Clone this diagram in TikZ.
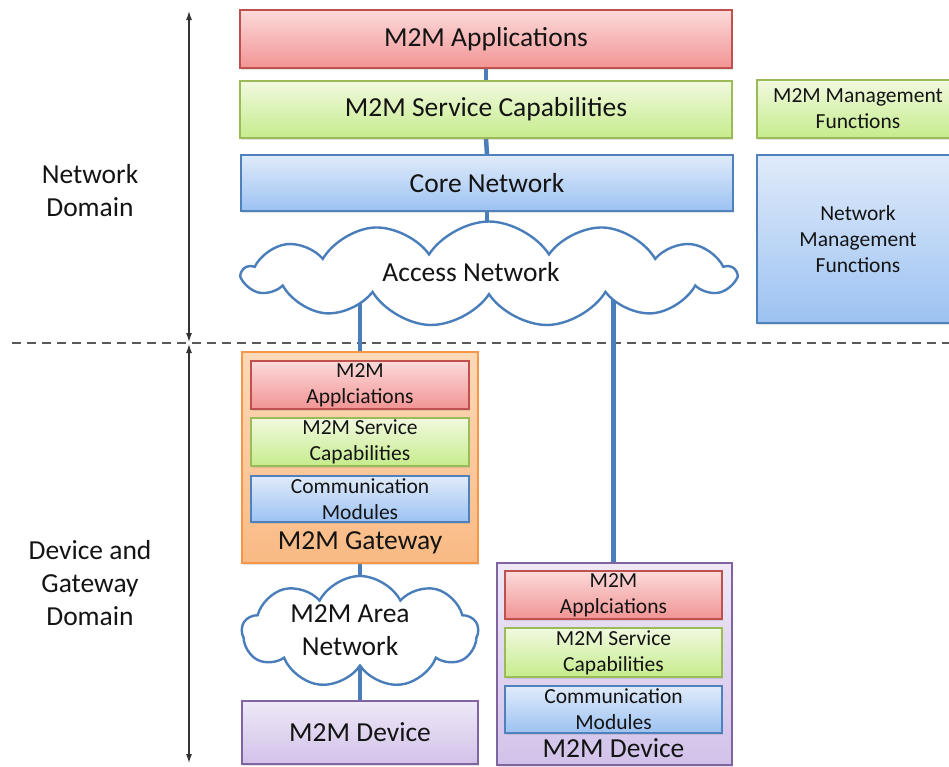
\documentclass[tikz,border=0pt]{standalone}
\usepackage{fontspec}
\setmainfont{Carlito}
\usetikzlibrary{shapes.symbols,arrows.meta,shadows,backgrounds}
\definecolor{redline}{HTML}{C0504D}
\definecolor{redtop}{HTML}{FCDADA}
\definecolor{redbot}{HTML}{F29494}
\definecolor{grnline}{HTML}{9BBB59}
\definecolor{grntop}{HTML}{F1F9DF}
\definecolor{grnbot}{HTML}{C6EC8C}
\definecolor{bluline}{HTML}{4F81BD}
\definecolor{blutop}{HTML}{E0EBFA}
\definecolor{blubot}{HTML}{9CC2F2}
\definecolor{orgline}{HTML}{F79646}
\definecolor{orgtop}{HTML}{FDD9B8}
\definecolor{orgbot}{HTML}{F9BA84}
\definecolor{purline}{HTML}{8064A2}
\definecolor{purtop}{HTML}{EEE8F6}
\definecolor{purbot}{HTML}{D2C2EA}
\definecolor{linkc}{HTML}{4A7EBB}
\definecolor{txt}{HTML}{141414}
\begin{document}
\begin{tikzpicture}[x=1pt,y=-1pt,
  base/.style={draw, line width=1.1pt, inner sep=0pt, align=center, text=txt,
    drop shadow={shadow xshift=1.2pt, shadow yshift=-1.6pt, opacity=0.22}},
  redbox/.style={base, draw=redline, top color=redtop, bottom color=redbot},
  grnbox/.style={base, draw=grnline, top color=grntop, bottom color=grnbot},
  blubox/.style={base, draw=bluline, top color=blutop, bottom color=blubot},
  orgbox/.style={base, draw=orgline, top color=orgtop, bottom color=orgbot},
  purbox/.style={base, draw=purline, top color=purtop, bottom color=purbot},
  big/.style={font=\fontsize{27.5}{33}\selectfont},
  small/.style={font=\fontsize{21.5}{26}\selectfont},
  label text/.style={align=center, text=txt, inner sep=0pt},
  link/.style={draw=linkc, line width=4.5pt},
  cloudbox/.style={cloud, draw=linkc, line width=2.4pt, fill=white,
    cloud ignores aspect, inner sep=0pt},
  domarrow/.style={draw=black!80, line width=1.2pt, {Latex[length=9pt,width=6pt]}-{Latex[length=9pt,width=6pt]}},
  divider/.style={draw=black!65, line width=1.5pt, dash pattern=on 9pt off 6pt}
]
\useasboundingbox (0,0) rectangle (949,766);

% Network domain
\node[redbox, big, minimum width=492pt, minimum height=58pt] (app) at (486,39) {M2M Applications};
\node[grnbox, big, minimum width=492pt, minimum height=57pt] (sc) at (486,109.5) {M2M Service Capabilities};
\node[blubox, big, minimum width=492pt, minimum height=56pt] (core) at (487,183) {Core Network};
\node[cloudbox, cloud puffs=13, cloud puff arc=115, minimum width=492pt, minimum height=105pt] (access) at (489,274) {};
\node[label text, big] (accesstxt) at (471,272) {Access Network};

\node[grnbox, small, minimum width=202pt, minimum height=58pt] (mmf) at (858,109) {M2M Management\\Functions};
\node[blubox, small, minimum width=202pt, minimum height=168pt] (nmf) at (858,239) {Network\\Management\\Functions};

% Gateway
\node[orgbox, minimum width=236pt, minimum height=211pt] (gw) at (360,457.5) {};
\node[redbox, small, minimum width=218pt, minimum height=48pt] (gwapp) at (360,385) {M2M\\Applciations};
\node[grnbox, small, minimum width=218pt, minimum height=48pt] (gwsc) at (360,442) {M2M Service\\Capabilities};
\node[blubox, small, minimum width=218pt, minimum height=46pt] (gwcm) at (360,499) {Communication\\Modules};
\node[label text, big] (gwlbl) at (360,543) {M2M Gateway};

% Area network and device
\node[cloudbox, cloud puffs=9, cloud puff arc=125, minimum width=236pt, minimum height=112pt] (area) at (360,632) {};
\node[label text, big] (areatxt) at (350,630) {M2M Area\\Network};
\node[purbox, big, minimum width=236pt, minimum height=63pt] (dev1) at (360,732.5) {M2M Device};

% Direct device
\node[purbox, minimum width=235pt, minimum height=202pt] (dev2) at (614.5,664) {};
\node[redbox, small, minimum width=217pt, minimum height=48pt] (devapp) at (613.5,595) {M2M\\Applciations};
\node[grnbox, small, minimum width=217pt, minimum height=49pt] (devsc) at (613.5,652.5) {M2M Service\\Capabilities};
\node[blubox, small, minimum width=217pt, minimum height=47pt] (devcm) at (613.5,709.5) {Communication\\Modules};
\node[label text, big] (devlbl) at (613.5,748) {M2M Device};

% Domain labels
\node[label text, big] (netdom) at (90,191) {Network\\Domain};
\node[label text, big] (devdom) at (90,583) {Device and\\Gateway\\Domain};

\coordinate (a1top) at (189,11);
\coordinate (a1bot) at (189,342);
\coordinate (a2top) at (189,344);
\coordinate (a2bot) at (189,763);
\coordinate (dl) at (12,343);
\coordinate (dr) at (949,343);

\begin{scope}[on background layer]
  \fill[white] (0,0) rectangle (949,766);
  \draw[divider] (dl) -- (dr);
  \draw[link] (app.south) -- (sc.north);
  \draw[link] (sc.south) -- (core.north);
  \draw[link] (core.south) -- (core.south |- access.center);
  \draw[link] (gw.north) -- (gw.north |- access.center);
  \draw[link] (dev2.north -| devapp.north) -- (devapp.north |- access.center);
  \draw[link] (gw.south) -- (gw.south |- area.center);
  \draw[link] (dev1.north) -- (dev1.north |- area.center);
\end{scope}

\draw[domarrow] (a1top) -- (a1bot);
\draw[domarrow] (a2top) -- (a2bot);
\end{tikzpicture}
\end{document}
